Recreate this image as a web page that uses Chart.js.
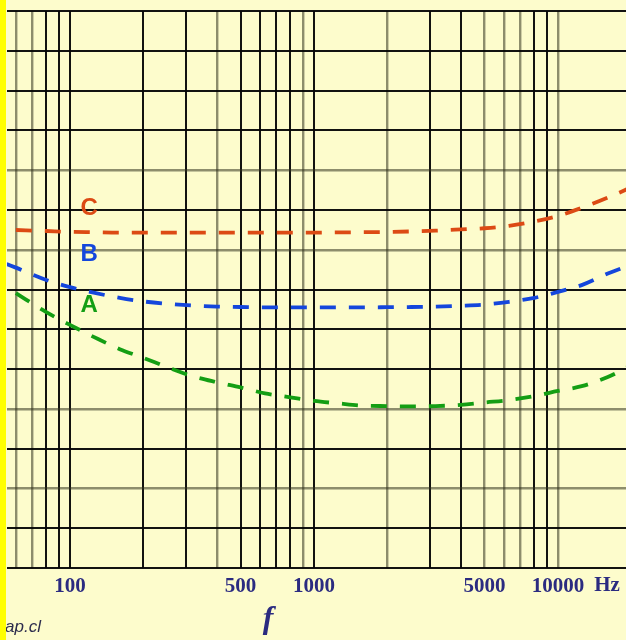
<!DOCTYPE html>
<html><head><meta charset="utf-8">
<script src="https://cdn.jsdelivr.net/npm/chart.js@4/dist/chart.umd.min.js"></script>
<style>
html,body{margin:0;padding:0;background:#fdfccc;overflow:hidden}
#wrap{position:relative;width:626px;height:640px}
canvas{display:block}
</style></head><body>
<div id="wrap"><canvas id="c" width="626" height="640"></canvas></div>
<script>
// ---- data ----
const freqs = [55, 60, 80, 100, 125, 160, 200, 250, 315, 400, 500, 630, 800, 1000, 1250, 1600, 2000, 2500, 3150, 4000, 5000, 6300, 8000, 10000, 12500, 16000, 20000];
const curveA = [null, 69.1, 64.3, 61.1, 58.1, 55.0, 52.8, 50.5, 48.3, 46.7, 45.4, 43.9, 42.9, 42.0, 41.4, 40.8, 40.7, 40.6, 40.7, 41.0, 41.6, 42.2, 43.2, 44.5, 45.7, 48.0, 51.0];
const curveB = [76.4, 75.5, 72.4, 70.6, 69.2, 67.9, 67.0, 66.4, 66.0, 65.7, 65.6, 65.5, 65.5, 65.5, 65.5, 65.5, 65.55, 65.6, 65.7, 65.9, 66.2, 66.9, 67.9, 69.4, 71.1, 74.0, 76.3];
const curveC = [null, 84.95, 84.7, 84.5, 84.4, 84.3, 84.3, 84.3, 84.3, 84.3, 84.3, 84.3, 84.3, 84.3, 84.35, 84.4, 84.45, 84.6, 84.8, 85.1, 85.4, 86.0, 87.1, 88.5, 90.5, 93.1, 95.7];
const curveNames = ['A', 'B', 'C'];
const nameFreq = 120;
const nameLevels = [66.1, 78.9, 90.5];
const gridFreqs = [60, 70, 80, 90, 100, 200, 300, 400, 500, 600, 700, 800, 900, 1000, 2000, 3000, 4000, 5000, 6000, 7000, 8000, 9000, 10000];
const labeledFreqs = [100, 500, 1000, 5000, 10000];
const faintFreqs = [60, 70, 400, 900, 2000, 5000, 6000, 7000, 10000];
const levelMin = 0, levelMax = 140, levelStep = 10;
const faintLevels = [20, 40, 80, 100];
const unitLabel = 'Hz';
const axisName = 'f';
const sourceText = 'ap.cl';

// ---- styles ----
const colA = '#149e14', colB = '#1446dc', colC = '#dc4a14';
const bg = '#fdfccc';
const darkGrid = 'rgba(5,5,5,0.95)';
const faintGrid = 'rgba(50,50,30,0.55)';
const navy = '#2b2b80';

const decor = {
  id: 'decor',
  beforeDraw(chart) {
    const c = chart.ctx;
    c.save();
    c.fillStyle = bg;
    c.fillRect(0, 0, chart.width, chart.height);
    c.restore();
  },
  afterDraw(chart) {
    const c = chart.ctx, xs = chart.scales.x, ys = chart.scales.y, a = chart.chartArea;
    c.save();
    const cols = [colA, colB, colC];
    c.font = 'bold 24px "Liberation Sans", Arial, sans-serif';
    c.textAlign = 'center';
    c.textBaseline = 'middle';
    curveNames.forEach((n, i) => {
      c.fillStyle = cols[i];
      c.fillText(n, xs.getPixelForValue(nameFreq), ys.getPixelForValue(nameLevels[i]));
    });
    c.fillStyle = navy;
    c.font = 'bold 21px "Liberation Serif", "Times New Roman", serif';
    c.fillText(unitLabel, a.right - 19, a.bottom + 18);
    c.font = 'italic bold 32px "Liberation Serif", "Times New Roman", serif';
    c.fillText(axisName, 268, a.bottom + 52);
    c.textAlign = 'left';
    c.textBaseline = 'alphabetic';
    c.fillStyle = '#2d2d4d';
    c.font = 'italic 17px "Liberation Sans", Arial, sans-serif';
    c.fillText(sourceText, 5, 632);
    c.fillStyle = '#ffff00';
    c.fillRect(0, 0, 6, chart.height);
    c.restore();
  }
};

const ds = (label, data, col) => ({
  label, data, borderColor: col, backgroundColor: col,
  borderWidth: 3.8, borderDash: [16, 13], pointRadius: 0,
  cubicInterpolationMode: 'monotone', fill: false, spanGaps: false
});

new Chart(document.getElementById('c'), {
  type: 'line',
  data: {
    labels: freqs,
    datasets: [
      ds(curveNames[2], freqs.map((f, i) => ({x: f, y: curveC[i]})), colC),
      ds(curveNames[1], freqs.map((f, i) => ({x: f, y: curveB[i]})), colB),
      ds(curveNames[0], freqs.map((f, i) => ({x: f, y: curveA[i]})), colA)
    ]
  },
  options: {
    responsive: false, animation: false, devicePixelRatio: 1,
    layout: {padding: {left: 7, top: 11, right: 0, bottom: 0}},
    plugins: {legend: {display: false}, tooltip: {enabled: false}},
    scales: {
      x: {
        type: 'logarithmic', min: 55.2, max: 19000,
        afterBuildTicks: ax => { ax.ticks = gridFreqs.map(v => ({value: v})); },
        afterFit: s => { s.height = 72; },
        ticks: {
          autoSkip: false, maxRotation: 0, minRotation: 0, padding: 6,
          color: navy,
          font: {family: '"Liberation Serif", "Times New Roman", serif', weight: 'bold', size: 21},
          callback: v => labeledFreqs.includes(v) ? String(v) : ''
        },
        grid: {
          drawTicks: false,
          color: ctx => faintFreqs.includes(ctx.tick && ctx.tick.value) ? faintGrid : darkGrid,
          lineWidth: ctx => faintFreqs.includes(ctx.tick && ctx.tick.value) ? 2.4 : 2
        },
        border: {display: false}
      },
      y: {
        type: 'linear', min: levelMin, max: levelMax,
        afterFit: s => { s.width = 0; },
        ticks: {display: false, stepSize: levelStep},
        grid: {
          drawTicks: false,
          color: ctx => faintLevels.includes(ctx.tick && ctx.tick.value) ? faintGrid : darkGrid,
          lineWidth: ctx => faintLevels.includes(ctx.tick && ctx.tick.value) ? 2.4 : 2
        },
        border: {display: false}
      }
    }
  },
  plugins: [decor]
});
</script>
</body></html>
